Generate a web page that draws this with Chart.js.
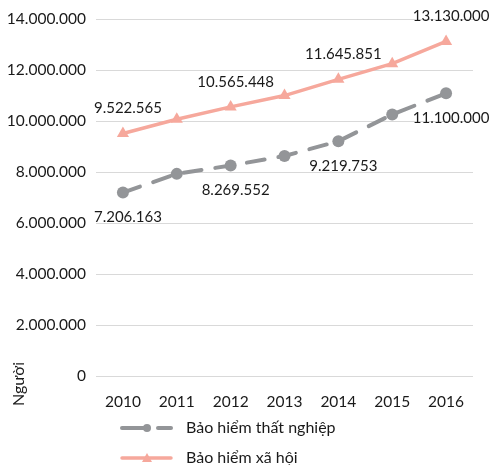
<!DOCTYPE html>
<html>
<head>
<meta charset="utf-8">
<script src="https://cdn.jsdelivr.net/npm/chart.js@4"></script>
<style>
html,body{margin:0;padding:0;background:#fff}
#wrap{width:494px;height:465px}
</style>
</head>
<body>
<div id="wrap"><canvas id="chart1" width="494" height="465"></canvas></div>
<script>
years = ['2010','2011','2012','2013','2014','2015','2016']
thatNghiep = [7206163, 7940000, 8269552, 8640000, 9219753, 10270000, 11100000]
xaHoi = [9522565, 10080000, 10565448, 11010000, 11645851, 12260000, 13130000]
yTicks = [0, 2000000, 4000000, 6000000, 8000000, 10000000, 12000000, 14000000]
labelYears = ['2010','2012','2014','2016']
seriesNames = ['Bảo hiểm thất nghiệp', 'Bảo hiểm xã hội']
yTitle = 'Người'

grayCol = '#939598'
redCol = '#f6a89c'
fontName = 'Lato, "Noto Sans", sans-serif'

function dots(v){
  return String(v).replace(/\B(?=(\d{3})+(?!\d))/g, '.')
}

// value labels, legend and axis title drawn by hand
var extras = {
  id: 'extras',
  afterDatasetsDraw(chart) {
    var ctx = chart.ctx
    ctx.save()
    ctx.font = '15px ' + fontName
    ctx.fillStyle = '#1a1a1a'
    ctx.textAlign = 'center'
    ctx.textBaseline = 'middle'
    chart.data.datasets.forEach((ds, i) => {
      var meta = chart.getDatasetMeta(i)
      meta.data.forEach((pt, j) => {
        if (labelYears.indexOf(years[j]) < 0) return
        var dy = i == 0 ? 25 : -25
        ctx.fillText(dots(ds.data[j]), pt.x + 5, pt.y + dy)
      })
    })

    // legend
    var lx = 122, tx = 186
    var rows = [428, 458]
    ctx.textAlign = 'left'
    ctx.font = '16px ' + fontName
    // gray
    ctx.strokeStyle = grayCol
    ctx.lineWidth = 4
    ctx.lineCap = 'round'
    ctx.beginPath(); ctx.moveTo(lx, rows[0]); ctx.lineTo(lx + 26, rows[0]); ctx.stroke()
    ctx.beginPath(); ctx.moveTo(lx + 36, rows[0]); ctx.lineTo(lx + 49, rows[0]); ctx.stroke()
    ctx.fillStyle = grayCol
    ctx.beginPath(); ctx.arc(lx + 25, rows[0], 4, 0, Math.PI * 2); ctx.fill()
    ctx.fillStyle = '#1a1a1a'
    ctx.fillText(seriesNames[0], tx, rows[0])
    // red
    ctx.strokeStyle = redCol
    ctx.lineWidth = 3.5
    ctx.beginPath(); ctx.moveTo(lx, rows[1]); ctx.lineTo(lx + 49, rows[1]); ctx.stroke()
    ctx.fillStyle = redCol
    ctx.beginPath(); ctx.moveTo(lx + 25, rows[1] - 5); ctx.lineTo(lx + 30, rows[1] + 4); ctx.lineTo(lx + 20, rows[1] + 4); ctx.closePath(); ctx.fill()
    ctx.fillStyle = '#1a1a1a'
    ctx.fillText(seriesNames[1], tx, rows[1])

    // y title
    ctx.translate(19, 384)
    ctx.rotate(-Math.PI / 2)
    ctx.textAlign = 'center'
    ctx.fillText(yTitle, 0, 0)
    ctx.restore()
  }
}

var ctx = document.getElementById('chart1').getContext('2d')
var myChart = new Chart(ctx, {
  type: 'line',
  data: {
    labels: years,
    datasets: [{
      label: seriesNames[0],
      data: thatNghiep,
      borderColor: grayCol,
      backgroundColor: grayCol,
      borderWidth: 4,
      borderDash: [18, 14],
      borderCapStyle: 'round',
      pointStyle: 'circle',
      pointRadius: 6,
      pointBorderWidth: 0,
      pointHoverRadius: 6
    }, {
      label: seriesNames[1],
      data: xaHoi,
      borderColor: redCol,
      backgroundColor: redCol,
      borderWidth: 3.5,
      pointStyle: 'triangle',
      pointRadius: 7,
      pointBorderWidth: 0,
      pointHoverRadius: 7
    }]
  },
  options: {
    responsive: false,
    animation: false,
    layout: { padding: { top: 15, right: 21, bottom: 46, left: 0 } },
    plugins: { legend: { display: false }, tooltip: { enabled: false } },
    scales: {
      x: {
        offset: true,
        grid: { display: false },
        border: { display: false },
        ticks: { color: '#1a1a1a', font: { family: fontName, size: 15.5 }, padding: 8 }
      },
      y: {
        min: 0, max: 14000000,
        afterFit(s) { s.width = 96 },
        afterBuildTicks(s) { s.ticks = yTicks.map(v => ({ value: v })) },
        grid: { color: '#d9d9d9', lineWidth: 1, drawTicks: false },
        border: { display: false },
        ticks: {
          color: '#1a1a1a', padding: 10,
          font: { family: fontName, size: 15.5 },
          callback: v => dots(v)
        }
      }
    }
  },
  plugins: [extras]
})
</script>
</body>
</html>
